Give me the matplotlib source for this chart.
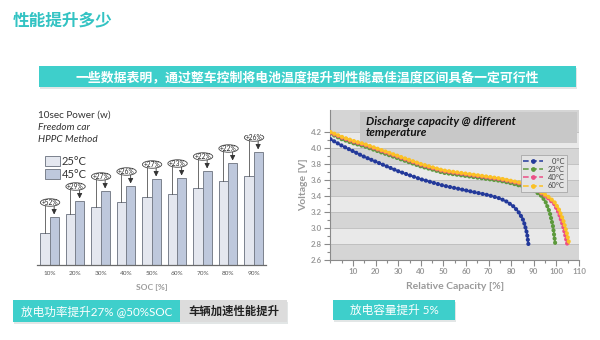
import matplotlib
matplotlib.use('Agg')
import matplotlib.pyplot as plt
import numpy as np
from matplotlib.patches import Rectangle, Ellipse
from matplotlib.lines import Line2D

plt.rcParams['font.family'] = ['Lato', 'Noto Sans CJK SC', 'DejaVu Sans']

TEAL = '#3ecfcb'
TITLE_TEAL = '#33c3c3'

# --- left chart: 10 s power per SOC (relative units)
soc_labels = ['10%', '20%', '30%', '40%', '50%', '60%', '70%', '80%', '90%']
power_25c = [32, 51, 58, 63, 68, 71, 77, 84, 89]
power_45c = [48, 64, 74, 79, 86, 87, 94, 102, 113]
gain_labels = ['+52%', '+29%', '+27%', '+26%', '+27%', '+23%', '+22%', '+22%', '+26%']

# --- right chart: discharge curves (relative capacity %, voltage V)
cap_0c = [0, 5, 10, 15, 20, 25, 30, 35, 40, 45, 50, 55, 60, 65, 70, 75, 78, 81, 83, 85, 86, 87, 87.6]
v_0c = [4.11, 4.03, 3.96, 3.89, 3.83, 3.77, 3.71, 3.66, 3.61, 3.57, 3.53, 3.50, 3.47, 3.44, 3.41,
        3.37, 3.33, 3.27, 3.21, 3.12, 3.04, 2.93, 2.80]
cap_23c = [0, 5, 10, 15, 20, 25, 30, 35, 40, 45, 50, 55, 60, 65, 70, 75, 80, 85, 90, 93, 95, 97, 98.5, 99.5]
v_23c = [4.18, 4.11, 4.06, 4.02, 3.97, 3.92, 3.87, 3.82, 3.77, 3.73, 3.69, 3.67, 3.65, 3.63, 3.61,
         3.59, 3.56, 3.52, 3.47, 3.41, 3.34, 3.20, 3.02, 2.80]
cap_40c = [0, 5, 10, 15, 20, 25, 30, 35, 40, 45, 50, 55, 60, 65, 70, 75, 80, 85, 90, 93, 96, 99, 101, 103, 104.8]
v_40c = [4.19, 4.13, 4.08, 4.04, 3.99, 3.94, 3.89, 3.84, 3.79, 3.75, 3.71, 3.69, 3.67, 3.65, 3.63,
         3.61, 3.58, 3.55, 3.50, 3.44, 3.38, 3.30, 3.19, 3.02, 2.80]
cap_60c = [0, 5, 10, 15, 20, 25, 30, 35, 40, 45, 50, 55, 60, 65, 70, 75, 80, 85, 90, 93, 96, 99, 101, 103, 104.5, 105.7]
v_60c = [4.20, 4.14, 4.09, 4.05, 4.00, 3.95, 3.90, 3.85, 3.80, 3.76, 3.72, 3.70, 3.68, 3.66, 3.64,
         3.62, 3.59, 3.56, 3.51, 3.45, 3.40, 3.33, 3.24, 3.10, 2.95, 2.80]
curve_labels = ['  0°C', '23°C', '40°C', '60°C']
curve_colors = ['#23399a', '#5d9a3c', '#ec4f86', '#fbc125']
volt_ticks = [2.6, 2.8, 3.0, 3.2, 3.4, 3.6, 3.8, 4.0, 4.2]
cap_ticks = [10, 20, 30, 40, 50, 60, 70, 80, 90, 100, 110]


def fx(x):
    return x / 600


def fy(y):
    return 1 - y / 340


def box(fig, x0, y0, x1, y1, color, shadow=True):
    if shadow:
        fig.patches.append(Rectangle((fx(x0 + 1), fy(y1 + 1.5)), (x1 - x0) / 600, (y1 - y0) / 340,
                                     transform=fig.transFigure, facecolor='#e2e6e6', edgecolor='none'))
    fig.patches.append(Rectangle((fx(x0), fy(y1)), (x1 - x0) / 600, (y1 - y0) / 340,
                                 transform=fig.transFigure, facecolor=color, edgecolor='none'))


fig = plt.figure(figsize=(6, 3.4), dpi=100, facecolor='white')

# header
fig.text(fx(13), fy(20), '性能提升多少', fontsize=12, fontweight='bold', color=TITLE_TEAL,
         ha='left', va='center')
box(fig, 39, 66, 576, 87, TEAL)
fig.text(fx(307.5), fy(76.5), '一些数据表明，通过整车控制将电池温度提升到性能最佳温度区间具备一定可行性',
         fontsize=9.3, fontweight='bold', color='white', ha='center', va='center')

# ---------------- left: bar chart ----------------
ax1 = fig.add_axes([fx(36.8), fy(265), 229.5 / 600, 130 / 340])
x = np.arange(len(soc_labels))
off, w = 0.18, 0.36
b25 = ax1.bar(x - off, power_25c, width=w, color='#e4e7ef', edgecolor='#7b818d', lw=0.7, zorder=2)
b45 = ax1.bar(x + off, power_45c, width=w, color='#bec8dc', edgecolor='#7b818d', lw=0.7, zorder=2)

for i, (h25, h45, lab) in enumerate(zip(power_25c, power_45c, gain_labels)):
    ey = h45 + 14.5
    ax1.plot([i - off, i - off], [h25, ey], color='#555555', lw=0.6, zorder=3)
    ax1.annotate('', xy=(i + off, h45 + 2.5), xytext=(i + off, ey),
                 arrowprops=dict(arrowstyle='-|>,head_length=0.3,head_width=0.15',
                                 color='#333333', lw=0.6, shrinkA=0, shrinkB=0), zorder=3)
    ax1.add_patch(Ellipse((i + 0.02, ey), 0.76, 7.5, facecolor='white', edgecolor='#444444',
                          lw=0.6, zorder=4))
    ax1.text(i + 0.02, ey, lab, fontsize=4.8, ha='center', va='center', color='#222222', zorder=5)

ax1.set_xlim(-0.5, 8.5)
ax1.set_ylim(0, 130)
ax1.set_yticks([])
ax1.set_xticks(x)
ax1.set_xticklabels(soc_labels, fontsize=4.6, color='#555555')
ax1.tick_params(axis='x', length=0, pad=4)
for s in ['left', 'top', 'right']:
    ax1.spines[s].set_visible(False)
ax1.spines['bottom'].set_color('#6a6a6a')
ax1.spines['bottom'].set_linewidth(0.9)
ax1.set_xlabel('SOC [%]', fontsize=6, color='#9a9a9a', fontweight='bold', labelpad=6)
ax1.patch.set_alpha(0)

ax1.legend([b25, b45], ['25°C', '45°C'], loc='upper left', bbox_to_anchor=(fx(45), fy(156)),
           bbox_transform=fig.transFigure, frameon=False, fontsize=8, handlelength=1.35,
           handleheight=1.0, handletextpad=0.15, labelspacing=0.2, borderpad=0, borderaxespad=0,
           labelcolor='#333333')

fig.text(fx(38), fy(115), '10sec Power (w)', fontsize=7.2, color='#333333', va='center')
fig.text(fx(38), fy(127), 'Freedom car', fontsize=7.2, color='#333333', va='center', style='italic')
fig.text(fx(38), fy(139), 'HPPC Method', fontsize=7.2, color='#333333', va='center', style='italic')

box(fig, 13, 300, 180, 322, TEAL)
box(fig, 180, 300, 287, 322, '#dcdcdc')
fig.text(fx(96.5), fy(311), '放电功率提升27% @50%SOC', fontsize=8.4, color='white',
         ha='center', va='center')
fig.text(fx(233.5), fy(311), '车辆加速性能提升', fontsize=8.2, color='#222222', fontweight='bold',
         ha='center', va='center')

# ---------------- right: discharge curves ----------------
ax2 = fig.add_axes([fx(330.4), fy(260), (579 - 330.4) / 600, 150 / 340])
ax2.set_xlim(0, 110)
ax2.set_ylim(2.6, 4.475)
ax2.set_facecolor('#e9e9e9')
dark_bands = [(4.2, 4.475), (3.8, 4.0), (3.4, 3.6), (3.0, 3.2), (2.6, 2.8)]
for lo, hi in dark_bands:
    ax2.axhspan(lo, hi, color='#d5d5d5', lw=0, zorder=0)
for v in volt_ticks[1:]:
    ax2.axhline(v, color='#bcbcbc', lw=0.6, zorder=0.5)

ax2.add_patch(Rectangle((13.1, 4.06), 96, 0.39, facecolor='#c8c8c8', edgecolor='none', zorder=1))
ax2.text(15.8, 4.26, 'Discharge capacity @ different\ntemperature', fontsize=8.4, fontweight='bold',
         style='italic', color='#111111', ha='left', va='center', linespacing=1.05, zorder=2)

curves = [(cap_0c, v_0c), (cap_23c, v_23c), (cap_40c, v_40c), (cap_60c, v_60c)]
for (cx, cy), c in zip(curves, curve_colors):
    ax2.plot(cx, cy, color=c, lw=0.8, zorder=3)
    ax2.plot(cx, cy, color=c, lw=3.0, linestyle=(0, (0.05, 0.95)), dash_capstyle='round', zorder=3)

handles = [Line2D([], [], color=c, ls='--', lw=1.1, marker='o', markersize=2.4) for c in curve_colors]
leg = ax2.legend(handles, curve_labels, loc='upper right', bbox_to_anchor=(0.968, 0.725), fontsize=5.5,
                 handlelength=2.6, borderpad=0.35, labelspacing=0.15, handletextpad=0.6,
                 fancybox=False, framealpha=1, facecolor='#e3e3e3', edgecolor='#a8a8a8',
                 labelcolor='#444444')
leg.get_frame().set_linewidth(0.6)
leg.set_zorder(5)

ax2.set_yticks(volt_ticks)
ax2.set_yticklabels(['%.1f' % v for v in volt_ticks])
ax2.set_yticks(np.array(volt_ticks[:-1]) + 0.1, minor=True)
ax2.set_xticks(cap_ticks)
ax2.set_xticks([0, 5, 15, 25, 35, 45, 55, 65, 75, 85, 95, 105], minor=True)
ax2.tick_params(which='both', direction='out', color='#8a8a8a', width=0.8,
                labelsize=5.8, labelcolor='#9a9a9a')
ax2.tick_params(which='major', length=4, pad=2)
ax2.tick_params(which='minor', length=2.5)
for lab in ax2.get_xticklabels() + ax2.get_yticklabels():
    lab.set_fontweight('bold')
for s in ['top', 'right']:
    ax2.spines[s].set_visible(False)
for s in ['left', 'bottom']:
    ax2.spines[s].set_color('#8a8a8a')
    ax2.spines[s].set_linewidth(0.8)
ax2.set_ylabel('Voltage [V]', fontsize=7.5, fontweight='bold', color='#9a9a9a', labelpad=2)
ax2.set_xlabel('Relative Capacity [%]', fontsize=7.5, fontweight='bold', color='#9a9a9a', labelpad=5)

box(fig, 333, 300, 455, 320, TEAL)
fig.text(fx(394), fy(310), '放电容量提升 5%', fontsize=8.4, color='white', ha='center', va='center')

fig.savefig('out.png', dpi=100, facecolor='white')
